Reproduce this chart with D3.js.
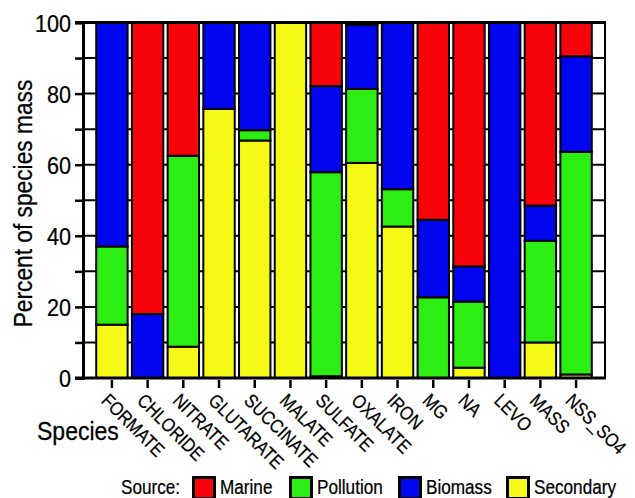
<!DOCTYPE html>
<html>
<head>
<meta charset="utf-8">
<script src="https://cdn.jsdelivr.net/npm/d3@7"></script>
<style>
  body { margin: 0; background: #fff; }
  text { font-family: "Liberation Sans", Arial, sans-serif; fill: #000; stroke: #000; stroke-width: 0.25; }
</style>
</head>
<body>
<div id="graph"><svg></svg></div>
<script>
// data (percent of species mass)
const species = ["FORMATE", "CHLORIDE", "NITRATE", "GLUTARATE", "SUCCINATE", "MALATE", "SULFATE",
  "OXALATE", "IRON", "MG", "NA", "LEVO", "MASS", "NSS_SO4"];
const secondary = [15, 0, 8.8, 75.7, 66.8, 100, 0.5, 60.5, 42.6, 0, 2.9, 0, 10, 1.0];
const pollution = [22, 0, 53.7, 0, 2.9, 0, 57.4, 20.8, 10.5, 22.7, 18.6, 0, 28.6, 62.6];
const biomass = [63, 18, 0, 24.3, 30.3, 0, 24.2, 18.1, 46.9, 21.8, 9.9, 100, 9.9, 26.9];
const marine = [0, 82, 37.5, 0, 0, 0, 17.9, 0.6, 0, 55.5, 68.6, 0, 51.5, 9.5];
const sources = ["Secondary", "Pollution", "Biomass", "Marine"];
const legendOrder = ["Marine", "Pollution", "Biomass", "Secondary"];
const yTicks = [0, 20, 40, 60, 80, 100];

const colors = { Marine: "#f80309", Pollution: "#2cee12", Biomass: "#0206ef", Secondary: "#f4fa16" };

let width = 635, height = 498;
let plot = { left: 83, right: 605, top: 22.5, bottom: 378 };

let svg = d3.select("#graph svg").attr("width", width).attr("height", height);

let table = species.map((s, i) => ({
  name: s, Secondary: secondary[i], Pollution: pollution[i], Biomass: biomass[i], Marine: marine[i]
}));
let stacked = d3.stack().keys(sources)(table);

let xScale = d3.scaleBand().domain(species).range([plot.left, plot.right])
  .paddingInner(0.12).paddingOuter(0.37);
let yScale = d3.scaleLinear().domain([0, 100]).range([plot.bottom, plot.top]);

// text helper: narrow-ish look via horizontal scale
function label(x, y, rot, size, sx, txt, anchor) {
  let g = svg.append("g").attr("transform", "translate(" + x + "," + y + ") rotate(" + rot + ") scale(" + sx + ",1)");
  return g.append("text").attr("font-size", size).attr("text-anchor", anchor || "start").text(txt);
}

// horizontal grid lines every 10
svg.append("g")
  .selectAll("line")
  .data(d3.range(10, 100, 10))
  .enter()
  .append("line")
  .attr("x1", plot.left).attr("x2", plot.right)
  .attr("y1", d => yScale(d)).attr("y2", d => yScale(d))
  .attr("stroke", "#000").attr("stroke-width", 2);

// bars
svg.append("g")
  .selectAll("g")
  .data(stacked)
  .enter()
  .append("g")
  .attr("fill", d => colors[d.key])
  .selectAll("rect")
  .data(d => d.filter(p => p[1] - p[0] > 0))
  .enter()
  .append("rect")
  .attr("x", d => xScale(d.data.name))
  .attr("width", xScale.bandwidth())
  .attr("y", d => yScale(d[1]))
  .attr("height", d => yScale(d[0]) - yScale(d[1]))
  .attr("stroke", "#000")
  .attr("stroke-width", 2);

// frame
svg.append("line").attr("x1", plot.left - 8).attr("x2", plot.right + 1).attr("y1", plot.top).attr("y2", plot.top)
  .attr("stroke", "#000").attr("stroke-width", 3);
svg.append("line").attr("x1", plot.right).attr("x2", plot.right).attr("y1", plot.top).attr("y2", plot.bottom)
  .attr("stroke", "#000").attr("stroke-width", 2);

// y axis
let yAxis = svg.append("g")
  .attr("transform", "translate(" + plot.left + ",0)")
  .call(d3.axisLeft(yScale).tickValues(d3.range(0, 101, 10)).tickSize(8).tickFormat(""));
yAxis.select(".domain").attr("stroke-width", 3);
yAxis.selectAll(".tick line").attr("stroke-width", 2.5);

yTicks.forEach(v => label(71, yScale(v) + 9, 0, 24, 0.9, v, "end"));

// x axis
let xAxis = svg.append("g")
  .attr("transform", "translate(0," + plot.bottom + ")")
  .call(d3.axisBottom(xScale).tickSize(10).tickSizeOuter(0).tickFormat(""));
xAxis.select(".domain").attr("stroke-width", 3).attr("d", "M" + (plot.left - 8) + ",0H" + (plot.right + 1));
xAxis.selectAll(".tick line").attr("stroke-width", 2.5).attr("y1", 2);

species.forEach(s => {
  label(xScale(s) + xScale.bandwidth() / 2 - 2, 392, 45, 19, 0.87, s).attr("dy", "0.72em");
});

// axis titles
label(32, 203.5, -90, 26, 0.875, "Percent of species mass", "middle");
label(37, 440, 0, 25, 0.92, "Species");

// legend
label(121, 494, 0, 19.5, 0.88, "Source:");
let legendX = { Marine: 192, Pollution: 289, Biomass: 398, Secondary: 506 };
legendOrder.forEach(k => {
  svg.append("rect")
    .attr("x", legendX[k] + 1.5).attr("y", 477.5)
    .attr("width", 21).attr("height", 21)
    .attr("fill", colors[k]).attr("stroke", "#000").attr("stroke-width", 3);
  label(legendX[k] + 28, 494, 0, 19.5, 0.88, k);
});
</script>
</body>
</html>
